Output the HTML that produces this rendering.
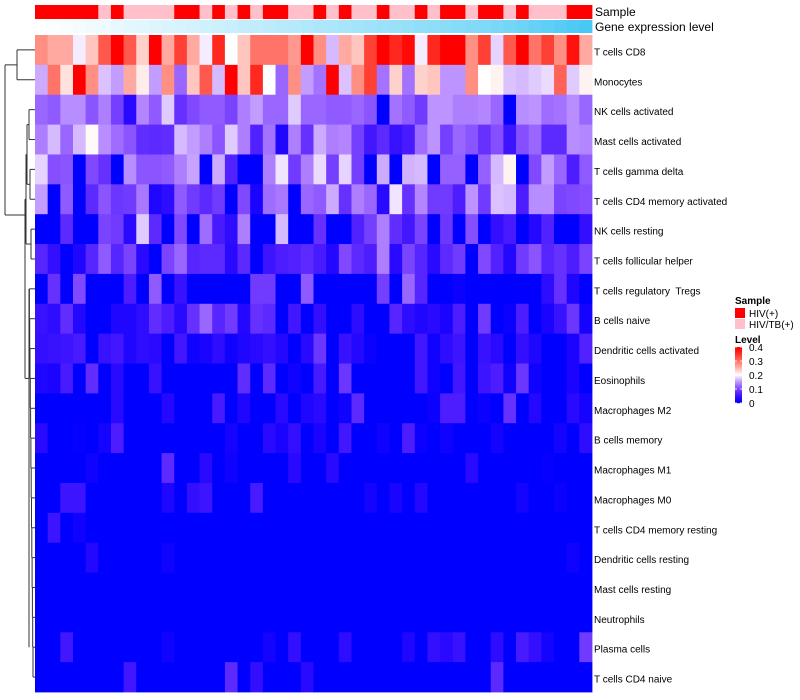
<!DOCTYPE html>
<html><head><meta charset="utf-8">
<style>
html,body{margin:0;padding:0;background:#fff;}
svg{display:block;font-family:"Liberation Sans",sans-serif;}
#rowLabels text{white-space:pre;}
</style></head>
<body>
<svg id="chart" width="800" height="700" viewBox="0 0 800 700" xmlns="http://www.w3.org/2000/svg">
  <g id="dendro" stroke="#333" stroke-width="1" fill="none"></g>
  <g id="sampleBar"></g>
  <g id="geneBar"></g>
  <g id="cells"></g>
  <g id="rowLabels" font-size="10" fill="#000"></g>
  <text x="595" y="16" font-size="12">Sample</text>
  <text x="595" y="31" font-size="12">Gene expression level</text>
  <g>
    <text x="735" y="304" font-size="10" font-weight="bold">Sample</text>
    <rect x="735" y="308" width="10" height="10" fill="#ff0000"/>
    <text x="749" y="317" font-size="10">HIV(+)</text>
    <rect x="735" y="319" width="10" height="10" fill="#ffc0cb"/>
    <text x="749" y="328" font-size="10">HIV/TB(+)</text>
    <text x="735" y="343" font-size="10" font-weight="bold">Level</text>
    <g id="colorbar"></g>
  </g>
</svg>
<script>
// Row labels (cell types)
const rowNames = ["T cells CD8","Monocytes","NK cells activated","Mast cells activated","T cells gamma delta","T cells CD4 memory activated","NK cells resting","T cells follicular helper","T cells regulatory  Tregs","B cells naive","Dendritic cells activated","Eosinophils","Macrophages M2","B cells memory","Macrophages M1","Macrophages M0","T cells CD4 memory resting","Dendritic cells resting","Mast cells resting","Neutrophils","Plasma cells","T cells CD4 naive"];
// Sample group per column (H = HIV(+), T = HIV/TB(+))
const sampleGroups = ["H","H","H","H","H","T","H","T","T","T","T","H","H","T","H","T","H","T","H","H","T","T","H","T","H","T","T","H","T","T","H","T","H","H","T","H","H","T","H","T","T","T","H","H"];
// Gene expression level per column (0..1)
const geneLevels = [0,0.02,0.04,0.06,0.08,0.1,0.12,0.14,0.16,0.18,0.2,0.22,0.24,0.26,0.28,0.3,0.32,0.34,0.36,0.38,0.4,0.42,0.44,0.46,0.48,0.5,0.52,0.54,0.56,0.58,0.6,0.62,0.64,0.66,0.68,0.7,0.72,0.76,0.8,0.84,0.88,0.92,0.96,1];
// Cell values, in units of 0.04 (0 -> 0, 5 -> 0.2, 10 -> 0.4)
const r0=[7,6.5,6.5,4.8,6,8,10,8,5.8,10,6.5,8.5,6.5,4.8,9,5,6,7.5,7.5,7.5,6.8,10,7,4.2,6.5,6,8.5,10,9,9.7,4.8,9,10,10,7,8.5,4.5,8,10,7.5,8.5,7,9.5,6.5];
const r1=[4,7.5,5.5,10,7,4.3,3.8,6.5,5.3,3.8,7,3,6,8,4.2,10,6,9,5,3,7,3.8,3.2,10,4.3,7,8.5,3.2,5.8,3.2,5.8,6,3.7,3.7,7,5,5.2,4.3,4.2,4.4,4.6,7.8,4.4,5.2];
const r2=[3,2.8,3.6,3.6,2.7,3.4,2.3,0.8,3.5,2.8,4.4,2,2.5,2.8,2.8,2.4,3.4,3.8,3,3,4.4,3,3,2.8,2.8,3,2.7,0,3.2,2.8,2.2,3.7,3.7,3.4,3.4,3.5,3,0,3.6,3.7,3.1,3.2,3.6,3];
const r3=[3.4,4.2,3,4.2,5.1,3.6,3.1,2.7,1.9,1.8,1.9,4.2,3.8,3.4,2.7,4.4,3.4,1.6,3.2,0.6,3.4,2,4,3.4,3.5,2.3,1.3,1.8,1.1,1.4,3.1,3.7,2.3,3,2.7,2,2.6,1.2,2.6,3,1.8,1.8,3.6,3.5];
const r4=[4.5,2.6,2.7,0,2.5,2,0,3.6,2.7,2.7,2.8,3.4,3.9,0,4,1.6,0,0,3.4,4.7,2.2,3.4,4.6,2.3,4.5,2.3,0,4,0,4.1,4.2,0,2.9,2.9,0,2.9,4.2,5.2,0,2.5,3.8,3,1.5,2.8];
const r5=[3.8,0,2.8,0,1.8,2.7,2.1,2.2,3.3,0.6,0.9,2.8,2.2,1.8,2.2,0,2.5,0.5,3.1,3.3,0,3,2.8,4,2,3.4,3,0.8,4.7,2,3.5,2.2,2.2,1.5,3.7,2.2,4.3,4.2,1.5,3.6,3.6,2.4,2.5,2.6];
const r6=[0,0,1.8,0,0,2.4,2.2,0.8,4.4,1.8,0,2.5,0,3.1,1.4,0.9,3.4,0,0,4.2,0,0,2,0,0,1.6,2.3,3.4,1.9,1.3,2.4,0,2.1,0,2.6,0,1,1.4,0,0.7,1.6,0,0,1];
const r7=[1.7,1,0,0.6,1.7,2.8,1.7,2.4,0.8,0,2.4,3,1.7,1.8,1.8,0.8,1.8,0,1.2,1.5,1.6,1.8,1.4,0.7,2.5,1.8,1.5,3.4,0.8,2.4,1.7,0.8,1.8,2.2,0,2.5,1.6,0.7,2.2,2.7,1.7,2,1.5,2.4];
const r8=[0,2,0,2.5,0,0,0,1.5,0,2.8,0,1.1,0,0,0,0,0,2.2,2.2,0,0,2.8,0,0,0,0,0,2.3,0,3,1.7,0,0,0.2,0,0,0,0,0,0,0.9,2,0.6,0];
const r9=[1.1,0.9,1.9,0.7,0,0,0.6,0.6,0.9,1.9,1.5,0.8,2,3,1.7,2.2,0.7,2,1.8,0,1.3,0,1,0,0,0.9,0,0,1.7,0.9,0.6,0.8,0.5,1.5,0,2.2,0,0.2,1.5,0,0.5,1.1,2.1,0.4];
const r10=[1,1.1,1.2,1.4,0,1.1,1.3,0.6,0.9,0.8,0,1.3,0.3,0.5,0.9,0.3,0.6,0.8,1,0.7,0,0.8,2.1,0,1.1,0.7,0.2,0,0,0,1.3,0.3,0.9,1.2,0,1.1,0.8,0,1,0.6,0,0,0.5,1.6];
const r11=[0.6,0.5,1.4,0,1.9,0,0.8,0,0,1.1,0,0,0,0,0,0,1.9,0,1.8,0,0.3,0,1.4,0,2.1,0,0,0,0,0,1.3,0.3,0,1.3,0,1.2,1.5,0.3,2.1,0.3,0,0,0.5,0];
const r12=[0,0,0,0,0,0,0.8,0,0,0,0.7,0,0,0,1.4,0,0.6,0,0,0.8,0,0.6,0.8,0,0.3,1.8,0,0,0,0,0,0.2,1.5,1.5,0,0.2,0,2,0,0.7,0,0,0.8,0.4];
const r13=[0.8,0,0,0.1,0,0.4,1.5,0,0,0,0,0,0,0,0,0.4,0,0,0.8,0.5,1,0,0.5,0,1.3,0,0,0.3,0,1.5,0.2,0,0.3,0,0,0,0.4,0,0,0,0,0.4,0,0.9];
const r14=[0,0,0,0,0.3,0,0,0,0,0,1.8,0,0,0.8,0,0.3,0,0,0,0,0.8,0,0,0.8,0,0,0,0,0,0,0,0,0,0,0.8,0,0,0,0,0,0.1,0,0,0];
const r15=[0,0,1.2,1.2,0,0,0,0,0,0,0.6,0,1,1.2,0,0,0,1.4,0,0,0,0,0,0,0,0,0.4,0,0.5,0,0.7,0,0,0,0,0,0,0,0.4,0,0,0.2,0,0];
const r16=[0,1.2,0,0.3,0,0,0,0,0,0,0,0,0,0,0,0,0,0,0,0,0,0,0,0,0,0,0,0,0,0,0,0,0,0,0,0,0,0,0,0,0,0,0,0];
const r17=[0,0,0,0,0.7,0,0,0,0,0,0.3,0,0,0,0,0,0,0,0,0,0,0,0,0,0,0,0,0,0,0,0,0,0,0,0,0,0,0,0,0,0,0,0.3,0];
const r18=[0,0,0,0,0,0,0,0,0,0,0,0,0,0,0,0,0,0,0,0,0,0,0,0,0,0,0,0,0,0,0,0,0,0,0,0,0,0,0,0,0,0,0,0];
const r19=[0,0,0,0,0,0,0,0,0,0,0,0,0,0,0,0,0,0,0,0,0,0,0,0,0,0,0,0,0,0,0,0,0,0,0,0,0,0,0,0,0,0,0,0];
const r20=[0,0,1.3,0,0,0,0,0,0,0,0.3,0,0,0,0,0,0,0,0.4,0,1,0,0,0,0.9,0,0,0,0,0.6,0,1,0.8,1.1,0,0,0.9,0,1.4,1,0.4,0,0,2.2];
const r21=[0,0,0,0,0,0,0,1.3,0,0,0,0,0,0,0,1.8,0,1,0,0,0,0.8,0,0,0,0,0,0,0,0,0,0,0,0,0,0,1.8,0,0,0,0,0,0,0];
const valueRows=[r0,r1,r2,r3,r4,r5,r6,r7,r8,r9,r10,r11,r12,r13,r14,r15,r16,r17,r18,r19,r20,r21];
const legendTicks=["0","0.1","0.2","0.3","0.4"];

const NS="http://www.w3.org/2000/svg";
const X0=35,X1=592,Y0=35,Y1=692;
const nCol=sampleGroups.length,nRow=rowNames.length;
const cw=(X1-X0)/nCol,rh=(Y1-Y0)/nRow;
const xPos=c=>X0+c*cw, yPos=r=>Y0+r*rh;
function mk(tag,attrs,parent){const e=document.createElementNS(NS,tag);for(const k in attrs)e.setAttribute(k,attrs[k]);parent.appendChild(e);return e;}
function colorFor(v){ // v in 0..10, 5 = white
  v=Math.max(0,Math.min(10,v));
  if(v<=5){const t=v/5;return `rgb(${Math.round(255*t)},${Math.round(255*Math.pow(t,1.8))},255)`;}
  const t=(v-5)/5;return `rgb(255,${Math.round(255*Math.pow(1-t,1.15))},${Math.round(255*Math.pow(1-t,1.3))})`;
}
const cells=document.getElementById('cells');
valueRows.forEach((row,r)=>{row.forEach((v,c)=>{
  const el=mk('rect',{x:xPos(c),y:yPos(r),width:cw+0.4,height:rh+0.4,fill:colorFor(v)},cells);
  
  
});});
const sb=document.getElementById('sampleBar');
sampleGroups.forEach((g,c)=>{
  const el=mk('rect',{x:xPos(c),y:5,width:cw+0.4,height:14,fill:g==="H"?"#ff0000":"#ffc0cb"},sb);
  
  
});
const gb=document.getElementById('geneBar');
geneLevels.forEach((v,c)=>{
  const r=Math.round(255-(255-72)*v),g=Math.round(255-(255-200)*v),b=Math.round(255-(255-245)*v);
  const el=mk('rect',{x:xPos(c),y:20,width:cw+0.4,height:13,fill:`rgb(${r},${g},${b})`},gb);
  
  
});
const rl=document.getElementById('rowLabels');
rowNames.forEach((n,r)=>{
  const el=mk('text',{x:594,y:yPos(r)+rh/2+5.5},rl);
  el.textContent=n;
  
  
});
// colorbar
const cb=document.getElementById('colorbar');
const cbTop=347,cbBot=403;
for(let i=0;i<56;i++){
  const v=10*(1-i/55);
  mk('rect',{x:735,y:cbTop+i,width:7,height:1.2,fill:colorFor(v)},cb);
}
legendTicks.forEach((t,i)=>{
  const y=cbBot-i*(cbBot-cbTop)/(legendTicks.length-1);
  mk('line',{x1:735,x2:737,y1:y,y2:y,stroke:"#fff","stroke-width":0.8},cb);
  mk('line',{x1:740,x2:742,y1:y,y2:y,stroke:"#fff","stroke-width":0.8},cb);
  const el=mk('text',{x:749,y:y+4,'font-size':10},cb);
  el.textContent=t;
  
  
});
// dendrogram (approximate tree)
const d=document.getElementById('dendro');
const cy=r=>yPos(r)+rh/2;
function seg(x1,y1,x2,y2){mk('line',{x1,y1,x2,y2},d);}
seg(17,cy(0),35,cy(0));seg(17,cy(1),35,cy(1));seg(17,cy(0),17,cy(1));
seg(5,(cy(0)+cy(1))/2,17,(cy(0)+cy(1))/2);
const low=215;
seg(5,(cy(0)+cy(1))/2,5,low);seg(5,low,25,low);
seg(29,cy(2),35,cy(2));seg(29,cy(3),35,cy(3));seg(29,cy(2),29,cy(3));
seg(30,cy(4),35,cy(4));seg(30,cy(5),35,cy(5));seg(30,cy(4),30,cy(5));
seg(27,(cy(2)+cy(3))/2,29,(cy(2)+cy(3))/2);seg(27,(cy(4)+cy(5))/2,30,(cy(4)+cy(5))/2);
seg(27,(cy(2)+cy(3))/2,27,(cy(4)+cy(5))/2);
seg(31,cy(6),35,cy(6));seg(31,cy(7),35,cy(7));seg(31,cy(6),31,cy(7));
seg(26,(cy(6)+cy(7))/2,31,(cy(6)+cy(7))/2);
const uA=((cy(2)+cy(3))/2+(cy(4)+cy(5))/2)/2;
seg(26,uA,27,uA);seg(26,uA,26,(cy(6)+cy(7))/2);
const uB=(uA+(cy(6)+cy(7))/2)/2;
seg(25,uB,26,uB);
let prev=cy(21);
seg(33,cy(21),35,cy(21));
for(let r=20;r>=8;r--){
  const x=33-(20-r)*0.3;
  seg(x,cy(r),35,cy(r));
  seg(x,cy(r),x,prev);
  prev=cy(r);
}
const lowTop=cy(8);
seg(25,uB,25,(lowTop+cy(14))/2);
seg(25,(lowTop+cy(14))/2,29,(lowTop+cy(14))/2);
seg(29,lowTop,29,cy(20));
</script>
</body></html>
